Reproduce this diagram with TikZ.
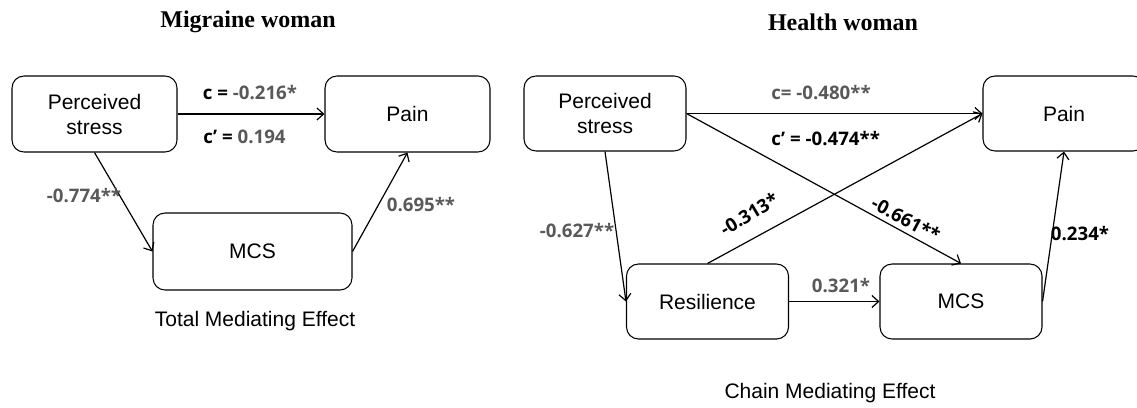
\documentclass[tikz,border=0pt]{standalone}
\usepackage{fontspec}
\setmainfont{Liberation Sans}
\newfontfamily\titlefont{Liberation Serif}
\newfontfamily\coeffont{Open Sans}
\usetikzlibrary{arrows.meta}
\definecolor{coefgray}{RGB}{89,89,89}
\tikzstyle{rect} = [rectangle, rounded corners=9pt, minimum width=121.5pt, minimum height=56.25pt, align=center, draw=black, line width=0.8pt, font=\fontsize{15.75}{18.75}\selectfont]
\tikzstyle{blank} = [rectangle, inner sep=0pt]
\tikzstyle{arrow} = [-{Straight Barb[length=5pt,width=9pt]}, line width=0.9pt]
\tikzstyle{coef} = [blank, font=\coeffont\bfseries\fontsize{14}{16}\selectfont, text=coefgray]
\tikzstyle{coefdark} = [coef, text=black]
\tikzstyle{heading} = [blank, font=\titlefont\bfseries\fontsize{18}{20}\selectfont]
\tikzstyle{caption} = [blank, font=\fontsize{15.75}{18}\selectfont]

\begin{document}
\begin{tikzpicture}[x=0.75pt, y=-0.75pt]
        \useasboundingbox (0,0) rectangle (1137,407);

        \node[heading] (t1) at (248,22) {Migraine woman};
        \node[rect, minimum width=123.75pt, minimum height=57pt] (ps1) at (94.5,114) {Perceived\\stress};
        \node[rect, minimum width=123.75pt, minimum height=57pt] (pain1) at (407.5,114) {Pain};
        \node[rect, minimum width=149.25pt, minimum height=57.75pt] (mcs1) at (252.5,251.5) {MCS};
        \node[caption] (cap1) at (255,321) {Total Mediating Effect};

        \draw[arrow] (ps1) -- (pain1);
        \draw[arrow] (ps1.south) -- (mcs1.west);
        \draw[arrow] (mcs1.east) -- (pain1.south);
        \node[coef] (c1) at (250,93) {\textcolor{black}{c =} -0.216*};
        \node[coef, anchor=west] (cp1) at (203,137) {\textcolor{black}{c’~=} 0.194};
        \node[coef] (a1) at (84,196) {-0.774**};
        \node[coef] (b1) at (421,205) {0.695**};

        \node[heading] (t2) at (843,22) {Health woman};
        \node[rect] (ps2) at (605,113.5) {Perceived\\stress};
        \node[rect] (pain2) at (1064,113.5) {Pain};
        \node[rect] (res2) at (707.5,301.5) {Resilience};
        \node[rect] (mcs2) at (961,301.5) {MCS};
        \node[caption] (cap2) at (830,393) {Chain Mediating Effect};

        \draw[arrow] (ps2) -- (pain2);
        \draw[arrow] (ps2.east) -- (mcs2.north);
        \draw[arrow] (res2.north) -- (pain2.west);
        \draw[arrow] (ps2.south) -- (res2.west);
        \draw[arrow] (res2) -- (mcs2);
        \draw[arrow] (mcs2.east) -- (pain2.south);
        \node[coef, anchor=west] (c2) at (771,93) {c= -0.480**};
        \node[coefdark, anchor=west] (cp2) at (771,139) {c’~= -0.474**};
        \node[coef] (a2) at (577,231) {-0.627**};
        \node[coefdark, rotate=31] (d2) at (749,214) {-0.313*};
        \node[coefdark, rotate=-28] (e2) at (906,219) {-0.661**};
        \node[coefdark] (f2) at (1080,234) {0.234*};
        \node[coef] (b2) at (841,286) {0.321*};
\end{tikzpicture}
\end{document}
